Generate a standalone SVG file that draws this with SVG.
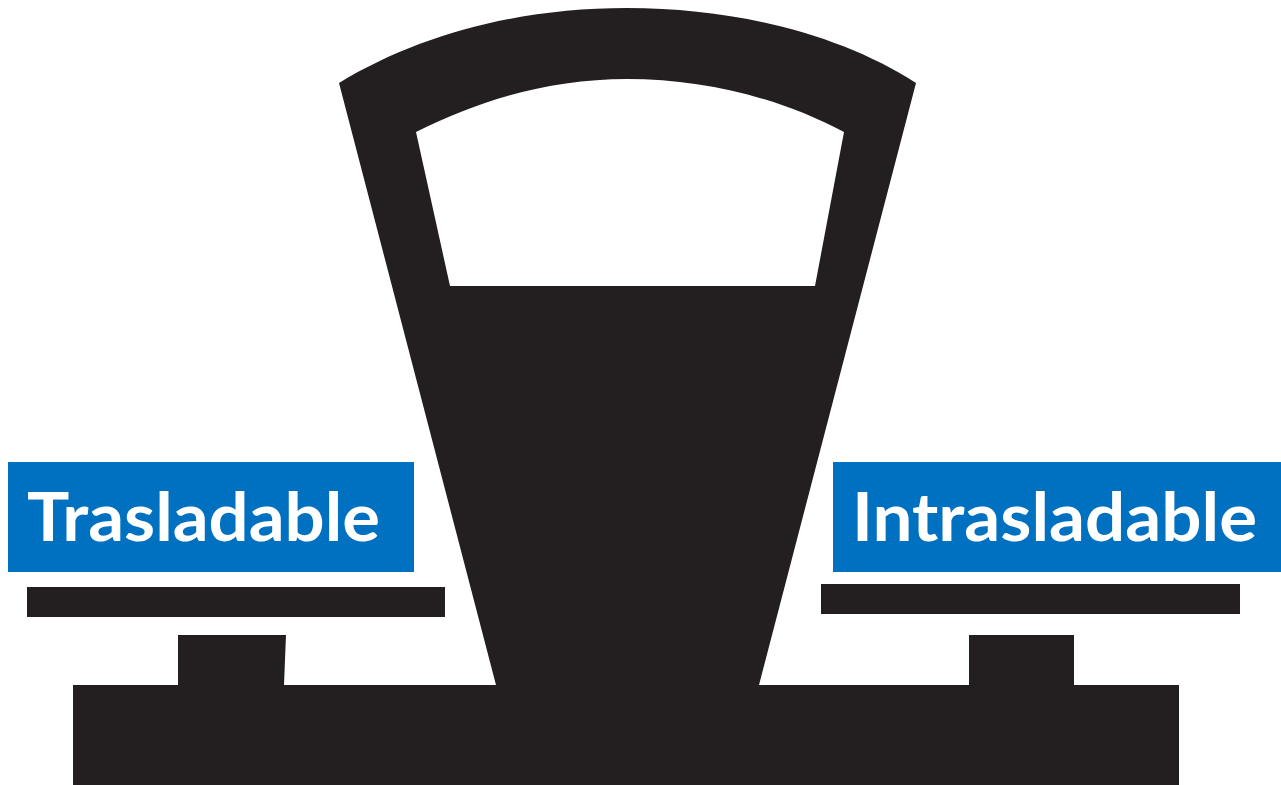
<svg xmlns="http://www.w3.org/2000/svg" width="1281" height="785" viewBox="0 0 1281 785">
<style>
.k{fill:#231f20}
.b{fill:#0070c0}
.t{fill:#fff;font-family:Lato,"Open Sans",sans-serif;font-weight:700;font-size:66px}
</style>
<rect width="1281" height="785" fill="#fff"/>
<path class="k" fill-rule="evenodd" d="M339 83C420 34 520 8 627 8C735 8 840 34 916 83L759 685H1179V785H73V685H178V635H286L284 685H496ZM416 132C480 100 550 79 627 79C705 79 780 98 844 132L815 286H450Z"/>
<rect class="k" x="27" y="587" width="418" height="30"/>
<rect class="k" x="821" y="584" width="419" height="30"/>
<rect class="k" x="969" y="635" width="105" height="60"/>
<g id="trasladable"><rect class="b" x="8" y="462" width="406" height="110"/><text class="t" x="27" y="541" textLength="353" lengthAdjust="spacingAndGlyphs">Trasladable</text></g>
<g id="intrasladable"><rect class="b" x="833" y="462" width="448" height="110"/><text class="t" x="852" y="541" textLength="405" lengthAdjust="spacingAndGlyphs">Intrasladable</text></g>
</svg>
